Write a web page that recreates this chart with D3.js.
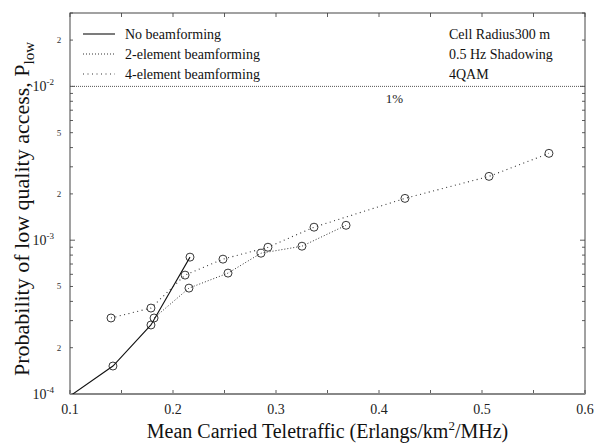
<!DOCTYPE html>
<html>
<head>
<meta charset="utf-8">
<script src="https://cdn.jsdelivr.net/npm/d3@7"></script>
<style>
  body { margin: 0; background: #fff; }
  svg { display: block; font-family: "Liberation Serif", "DejaVu Serif", serif; }
</style>
</head>
<body>
<div id="chart"></div>
<script>
// series (x: Erlangs/km2/MHz, y: probability)
const noBeamX = [0.093, 0.1417, 0.1786, 0.2165]
const noBeamY = [0.9e-4, 1.52e-4, 2.81e-4, 7.76e-4]
const twoElemX = [0.1816, 0.2155, 0.2534, 0.2854, 0.3252, 0.368]
const twoElemY = [3.12e-4, 4.88e-4, 6.11e-4, 8.23e-4, 9.14e-4, 1.25e-3]
const fourElemX = [0.1398, 0.1786, 0.2117, 0.2485, 0.2922, 0.3369, 0.4252, 0.5068, 0.565]
const fourElemY = [3.12e-4, 3.62e-4, 5.93e-4, 7.53e-4, 9.0e-4, 1.215e-3, 1.87e-3, 2.6e-3, 3.67e-3]
const threshold = 1e-2
const xTicks = [0.1, 0.2, 0.3, 0.4, 0.5, 0.6]
const yDecades = [1e-4, 1e-3, 1e-2]
const yMinorLabels = [[2e-4, "2"], [5e-4, "5"], [2e-3, "2"], [5e-3, "5"], [2e-2, "2"]]
const legendLabels = ["No beamforming", "2-element beamforming", "4-element beamforming"]
const infoLines = ["Cell Radius300 m", "0.5 Hz Shadowing", "4QAM"]

const width = 595, height = 444
const margin = { top: 13, right: 10, bottom: 50, left: 70 }

const svg = d3.select("#chart").append("svg")
  .attr("width", width)
  .attr("height", height)

const x = d3.scaleLinear().domain([0.1, 0.6]).range([margin.left, width - margin.right])
const y = d3.scaleLog().domain([1e-4, 3e-2]).range([height - margin.bottom, margin.top])

svg.append("clipPath").attr("id", "clip")
  .append("rect")
  .attr("x", margin.left).attr("y", margin.top)
  .attr("width", x.range()[1] - margin.left)
  .attr("height", y.range()[0] - margin.top)

// minor log ticks
const minorY = []
for (let d = 1e-4; d < 3e-2; d *= 10) {
  for (let m = 1; m < 10; m++) {
    const v = d * m
    if (v <= 3e-2) minorY.push(v)
  }
}
const xMinor = d3.range(0.1, 0.6001, 0.05)

const x0 = margin.left, x1 = width - margin.right
const y0 = height - margin.bottom, y1 = margin.top

// ticks, inward
const tg = svg.append("g").attr("stroke", "#333").attr("stroke-width", 0.8)
minorY.forEach(v => {
  const len = yDecades.includes(v) ? 5 : 3
  tg.append("line").attr("x1", x0).attr("x2", x0 + len).attr("y1", y(v)).attr("y2", y(v))
  tg.append("line").attr("x1", x1).attr("x2", x1 - len).attr("y1", y(v)).attr("y2", y(v))
})
xMinor.forEach(v => {
  tg.append("line").attr("x1", x(v)).attr("x2", x(v)).attr("y1", y0).attr("y2", y0 - 4)
  tg.append("line").attr("x1", x(v)).attr("x2", x(v)).attr("y1", y1).attr("y2", y1 + 4)
})

// frame
svg.append("rect")
  .attr("x", x0).attr("y", y1)
  .attr("width", x1 - x0).attr("height", y0 - y1)
  .attr("fill", "none").attr("stroke", "#444").attr("stroke-width", 1)
svg.append("line").attr("x1", x0).attr("x2", x1).attr("y1", y0).attr("y2", y0)
  .attr("stroke", "#888").attr("stroke-width", 2)

// x tick labels
svg.append("g").selectAll("text").data(xTicks).join("text")
  .attr("x", d => x(d)).attr("y", y0 + 20)
  .attr("text-anchor", "middle").attr("font-size", 14).attr("fill", "#222")
  .text(d => d3.format(".1f")(d))

// y decade labels
const dl = svg.append("g").selectAll("text").data(yDecades).join("text")
  .attr("x", x0 - 16).attr("y", d => y(d) + 5)
  .attr("text-anchor", "end").attr("font-size", 14).attr("fill", "#222")
dl.append("tspan").text("10")
dl.append("tspan").attr("dy", -6).attr("font-size", 9).text(d => Math.round(Math.log10(d)))

svg.append("g").selectAll("text").data(yMinorLabels).join("text")
  .attr("x", x0 - 11).attr("y", d => y(d[0]) + 3)
  .attr("text-anchor", "middle").attr("font-size", 9).attr("fill", "#333")
  .text(d => d[1])

// axis titles
svg.append("text")
  .attr("x", (x0 + x1) / 2).attr("y", height - 6)
  .attr("text-anchor", "middle").attr("font-size", 20).attr("fill", "#111")
  .call(t => {
    t.append("tspan").text("Mean Carried Teletraffic (Erlangs/km")
    t.append("tspan").attr("dy", -8).attr("font-size", 13).text("2")
    t.append("tspan").attr("dy", 8).text("/MHz)")
  })

svg.append("text")
  .attr("transform", `translate(29,209) rotate(-90)`)
  .attr("text-anchor", "middle").attr("font-size", 22).attr("fill", "#111")
  .call(t => {
    t.append("tspan").text("Probability of low quality access, P")
    t.append("tspan").attr("dy", 5).attr("font-size", 15).text("low")
  })

// threshold line
svg.append("line")
  .attr("x1", x0).attr("x2", x1).attr("y1", y(threshold)).attr("y2", y(threshold))
  .attr("stroke", "#555").attr("stroke-width", 1).attr("stroke-dasharray", "1,1")
svg.append("text")
  .attr("x", x(0.415)).attr("y", y(threshold) + 17)
  .attr("text-anchor", "middle").attr("font-size", 13).attr("fill", "#222")
  .text("1%")

// series
const plot = svg.append("g").attr("clip-path", "url(#clip)")
const series = [
  { xs: noBeamX, ys: noBeamY, dash: null, color: "#111", width: 1.1 },
  { xs: twoElemX, ys: twoElemY, dash: "1,2", color: "#333", width: 1 },
  { xs: fourElemX, ys: fourElemY, dash: "1,3.5", color: "#333", width: 1.1 }
]
const line = d3.line().x(d => x(d[0])).y(d => y(d[1]))
series.forEach(s => {
  const pts = s.xs.map((v, i) => [v, s.ys[i]])
  plot.append("path").datum(pts)
    .attr("d", line)
    .attr("fill", "none")
    .attr("stroke", s.color)
    .attr("stroke-width", s.width)
    .attr("stroke-dasharray", s.dash)
  plot.append("g").selectAll("circle").data(pts).join("circle")
    .attr("cx", d => x(d[0])).attr("cy", d => y(d[1])).attr("r", 4)
    .attr("fill", "none").attr("stroke", "#222").attr("stroke-width", 0.9)
})

// legend
const lg = svg.append("g")
legendLabels.forEach((lab, i) => {
  const ly = 34 + i * 20
  lg.append("line").attr("x1", 83).attr("x2", 115).attr("y1", ly).attr("y2", ly)
    .attr("stroke", series[i].color).attr("stroke-width", series[i].width)
    .attr("stroke-dasharray", series[i].dash)
  lg.append("text").attr("x", 125).attr("y", ly + 5)
    .attr("font-size", 14).attr("fill", "#111").text(lab)
})

// info text
svg.append("g").selectAll("text").data(infoLines).join("text")
  .attr("x", 449).attr("y", (d, i) => 39 + i * 20)
  .attr("font-size", 14).attr("fill", "#111")
  .text(d => d)
</script>
</body>
</html>
